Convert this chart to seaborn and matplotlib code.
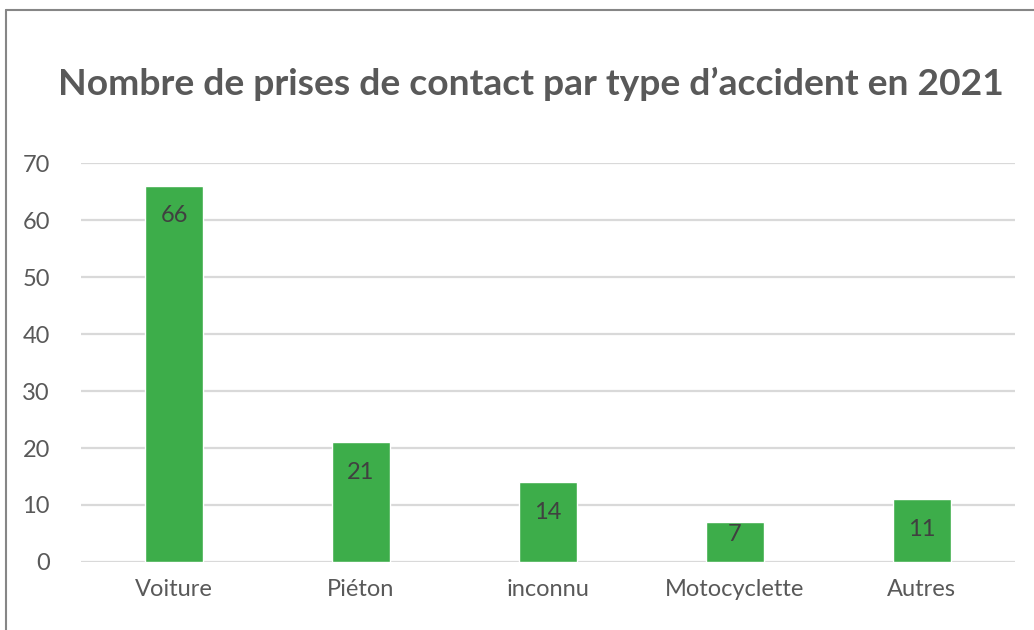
import matplotlib
matplotlib.use("Agg")
import matplotlib.pyplot as plt
import seaborn as sns
import pandas as pd
from matplotlib.lines import Line2D

categories = ["Voiture", "Piéton", "inconnu", "Motocyclette", "Autres"]
values = [66, 21, 14, 7, 11]
yticks = [0, 10, 20, 30, 40, 50, 60, 70]
title = "Nombre de prises de contact par type d\u2019accident en 2021"

sns.set_style("white")
plt.rcParams["font.family"] = ["Lato", "DejaVu Sans"]

df = pd.DataFrame({"type": categories, "n": values})

fig = plt.figure(figsize=(10.34, 6.30), dpi=100)
ax = fig.add_axes([0.0779, 0.108, 0.904, 0.633])

sns.barplot(data=df, x="type", y="n", color="#3DAD4A", saturation=1,
            width=0.31, ax=ax, zorder=3)

ax.set_ylim(0, 70)
ax.set_yticks(yticks)
ax.set_xlim(-0.5, len(categories) - 0.5)
ax.yaxis.grid(True, color="#D9D9D9", linewidth=1.6, zorder=0)
ax.set_axisbelow(True)
for s in ax.spines.values():
    s.set_visible(False)
ax.set_xlabel("")
ax.set_ylabel("")
ax.tick_params(axis="both", length=0, labelsize=17, colors="#595959")
ax.tick_params(axis="y", pad=22)
ax.tick_params(axis="x", pad=12)

# data labels inside bar ends
px_per_unit = ax.get_window_extent().height / 70
for i, v in enumerate(values):
    off = min(30, v * px_per_unit - 27)
    ax.annotate(str(v), (i, v), xytext=(0, -off), textcoords="offset pixels",
                ha="center", va="center", fontsize=17, color="#404040")

fig.text(0.513, 0.867, title, ha="center", va="center", fontsize=26.8,
         fontweight="bold", color="#595959")

# chart frame
fig.add_artist(Line2D([6 / 1034, 6 / 1034], [0, 1 - 10 / 630], color="#868686",
                      linewidth=1.5, transform=fig.transFigure))
fig.add_artist(Line2D([6 / 1034, 1], [1 - 10 / 630, 1 - 10 / 630], color="#868686",
                      linewidth=1.5, transform=fig.transFigure))

fig.savefig("out.png", dpi=100)
